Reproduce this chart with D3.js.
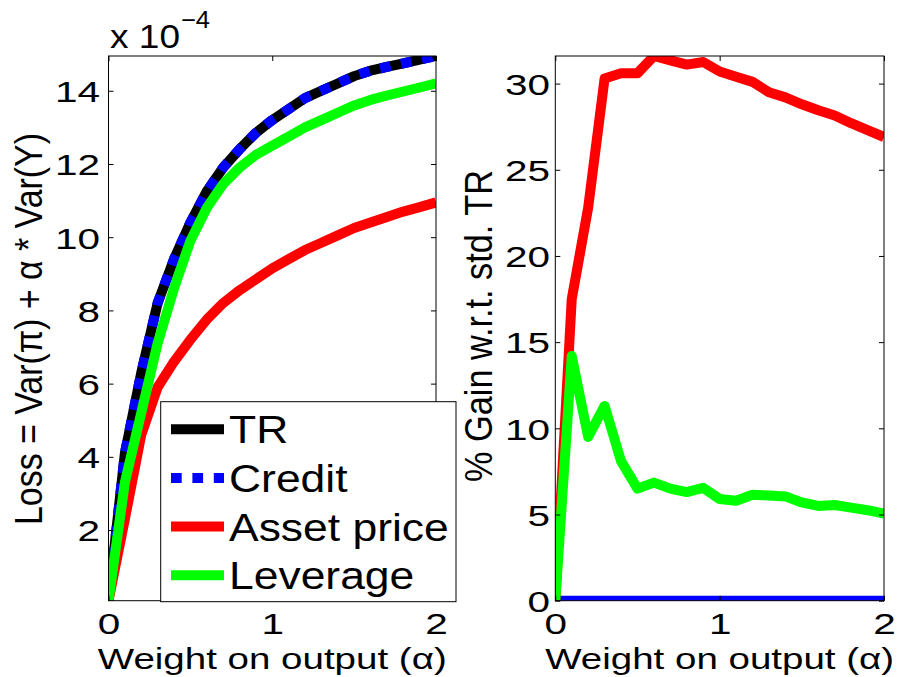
<!DOCTYPE html>
<html>
<head>
<meta charset="utf-8">
<script src="https://cdn.jsdelivr.net/npm/d3@7"></script>
<style>
  body { margin: 0; background: #fff; }
  text { font-family: "Liberation Sans", Arial, Helvetica, sans-serif; fill: #000; }
</style>
</head>
<body>
<svg id="fig" width="899" height="677"></svg>
<script>
// Weight on output (alpha) grid
const alpha = [0, 0.1, 0.2, 0.3, 0.4, 0.5, 0.6, 0.7, 0.8, 0.9, 1.0,
               1.1, 1.2, 1.3, 1.4, 1.5, 1.6, 1.7, 1.8, 1.9, 2.0];

// Loss = Var(pi) + alpha * Var(Y), in units of 1e-4
const lossTR       = [0.07, 4.1, 6.3, 8.2, 9.4, 10.4, 11.25, 11.9, 12.4, 12.85, 13.2,
                      13.5, 13.8, 14.0, 14.2, 14.4, 14.55, 14.65, 14.75, 14.85, 14.95];
const lossCredit   = [0.07, 4.1, 6.3, 8.2, 9.4, 10.4, 11.25, 11.9, 12.4, 12.85, 13.2,
                      13.5, 13.8, 14.0, 14.2, 14.4, 14.55, 14.65, 14.75, 14.85, 14.95];
const lossAsset    = [0.07, 2.3, 4.6, 5.9, 6.6, 7.2, 7.75, 8.2, 8.55, 8.85, 9.15,
                      9.4, 9.65, 9.85, 10.05, 10.25, 10.4, 10.55, 10.7, 10.82, 10.95];
const lossLeverage = [0.07, 3.3, 5.2, 7.1, 8.6, 9.9, 10.8, 11.45, 11.9, 12.25, 12.5,
                      12.75, 13.0, 13.2, 13.4, 13.6, 13.75, 13.87, 13.98, 14.09, 14.2];

// % gain with respect to standard Taylor rule
const gainCredit   = [0, 0, 0, 0, 0, 0, 0, 0, 0, 0, 0,
                      0, 0, 0, 0, 0, 0, 0, 0, 0, 0];
const gainAsset    = [0, 17.5, 22.8, 30.3, 30.6, 30.6, 31.6, 31.35, 31.1, 31.25, 30.7,
                      30.4, 30.1, 29.5, 29.2, 28.8, 28.45, 28.15, 27.7, 27.3, 26.9];
const gainLeverage = [0, 14.2, 9.5, 11.3, 8.1, 6.5, 6.85, 6.5, 6.3, 6.55, 5.9,
                      5.8, 6.15, 6.1, 6.05, 5.7, 5.5, 5.55, 5.4, 5.25, 5.05];

const xTicks = [0, 1, 2];
const lossTicks = [2, 4, 6, 8, 10, 12, 14];
const gainTicks = [0, 5, 10, 15, 20, 25, 30];
const legendNames = ["TR", "Credit", "Asset price", "Leverage"];

const BLACK = "#000000", BLUE = "#0000ff", RED = "#ff0000", GREEN = "#00ff00";
const LW = 10;
const DOT = "10.7,10.7";

const svg = d3.select("#fig");
svg.append("rect").attr("width", 899).attr("height", 677).attr("fill", "#fff");

const TICK_FS = 30, TICK_SX = 1.35;

function stretch(sel, sx) {
  sel.each(function () {
    const t = d3.select(this);
    const x = +t.attr("x") || 0;
    const y = +t.attr("y") || 0;
    t.attr("x", 0).attr("y", 0)
     .attr("transform", `translate(${x},${y}) scale(${sx},1)`);
  });
}

function panel(box, yScale, yTicks, series, id) {
  const x = d3.scaleLinear().domain([0, 2]).range([box.x0, box.x1]);
  const g = svg.append("g");

  g.append("clipPath").attr("id", id)
    .append("rect").attr("x", box.x0).attr("y", box.y0)
    .attr("width", box.x1 - box.x0).attr("height", box.y1 - box.y0);

  const plot = g.append("g").attr("clip-path", `url(#${id})`);
  series.forEach(s => {
    const line = d3.line().x((d, i) => x(alpha[i])).y(d => yScale(d));
    plot.append("path").datum(s.values)
      .attr("d", line)
      .attr("fill", "none")
      .attr("stroke", s.color)
      .attr("stroke-width", LW)
      .attr("stroke-linejoin", "round")
      .attr("stroke-linecap", "butt")
      .attr("stroke-dasharray", s.dash || null);
  });

  // axes with inward ticks on all four sides
  const bottom = g.append("g").attr("transform", `translate(0,${box.y1})`)
    .call(d3.axisBottom(x).tickValues(xTicks).tickFormat(d3.format("d"))
      .tickSizeInner(-5).tickSizeOuter(0).tickPadding(12));
  const top = g.append("g").attr("transform", `translate(0,${box.y0})`)
    .call(d3.axisTop(x).tickValues(xTicks).tickFormat("")
      .tickSizeInner(-5).tickSizeOuter(0));
  const left = g.append("g").attr("transform", `translate(${box.x0},0)`)
    .call(d3.axisLeft(yScale).tickValues(yTicks).tickFormat(d3.format("d"))
      .tickSizeInner(-5).tickSizeOuter(0).tickPadding(box.pad));
  const right = g.append("g").attr("transform", `translate(${box.x1},0)`)
    .call(d3.axisRight(yScale).tickValues(yTicks).tickFormat("")
      .tickSizeInner(-5).tickSizeOuter(0));

  [bottom, top, left, right].forEach(a => {
    a.select(".domain").remove();
    a.selectAll("line").attr("stroke", "#000").attr("stroke-width", 1);
    a.selectAll("text").attr("font-size", TICK_FS).attr("font-family", null).attr("fill", "#000");
  });
  left.selectAll("text").attr("dy", "0.36em");
  stretch(bottom.selectAll("text"), TICK_SX);
  stretch(left.selectAll("text"), TICK_SX);

  g.append("rect").attr("x", box.x0).attr("y", box.y0)
    .attr("width", box.x1 - box.x0).attr("height", box.y1 - box.y0)
    .attr("fill", "none").attr("stroke", "#000").attr("stroke-width", 1);

  g.append("text")
    .attr("x", (box.x0 + box.x1) / 2).attr("y", 669)
    .attr("text-anchor", "middle").attr("font-size", 30)
    .attr("textLength", 349).attr("lengthAdjust", "spacingAndGlyphs")
    .text("Weight on output (α)");

  return { x, g };
}

// Left panel: loss
const box1 = { x0: 108.5, x1: 436, y0: 56, y1: 600.7, pad: 8.5 };
const yLoss = d3.scaleLinear()
  .domain([d3.min(lossTR), d3.max(lossTR)])
  .range([box1.y1, box1.y0]);
panel(box1, yLoss, lossTicks, [
  { values: lossTR, color: BLACK },
  { values: lossCredit, color: BLUE, dash: DOT },
  { values: lossAsset, color: RED },
  { values: lossLeverage, color: GREEN }
], "clipLoss");

svg.append("text")
  .attr("transform", "translate(41.7,329) scale(1.3,1) rotate(-90)")
  .attr("text-anchor", "middle").attr("font-size", 30)
  .attr("textLength", 392).attr("lengthAdjust", "spacingAndGlyphs")
  .text("Loss = Var(π) + α * Var(Y)");

// exponent of the loss axis
svg.append("text").attr("x", 110).attr("y", 48).attr("font-size", 33)
  .attr("textLength", 70).attr("lengthAdjust", "spacingAndGlyphs").text("x 10");
svg.append("text").attr("x", 181).attr("y", 28).attr("font-size", 24)
  .attr("textLength", 29).attr("lengthAdjust", "spacingAndGlyphs").text("−4");

// Right panel: % gain
const box2 = { x0: 555.3, x1: 884, y0: 56, y1: 600.7, pad: 5.3 };
const yGain = d3.scaleLinear()
  .domain([0, d3.max(gainAsset)])
  .range([box2.y1, box2.y0]);
panel(box2, yGain, gainTicks, [
  { values: gainCredit, color: BLUE },
  { values: gainAsset, color: RED },
  { values: gainLeverage, color: GREEN }
], "clipGain");

svg.append("text")
  .attr("transform", "translate(491.7,326) scale(1.3,1) rotate(-90)")
  .attr("text-anchor", "middle").attr("font-size", 30)
  .attr("textLength", 312).attr("lengthAdjust", "spacingAndGlyphs")
  .text("% Gain w.r.t. std. TR");

// Legend
const leg = svg.append("g");
leg.append("rect").attr("x", 160.7).attr("y", 401.7)
  .attr("width", 295.3).attr("height", 200)
  .attr("fill", "#fff").attr("stroke", "#000").attr("stroke-width", 1);
const legStyles = [
  { color: BLACK }, { color: BLUE, dash: DOT }, { color: RED }, { color: GREEN }
];
const legY = d3.scalePoint().domain(legendNames).range([429.2, 575.3]);
legendNames.forEach((name, i) => {
  const cy = legY(name);
  leg.append("line").attr("x1", 171).attr("x2", 224).attr("y1", cy).attr("y2", cy)
    .attr("stroke", legStyles[i].color).attr("stroke-width", LW)
    .attr("stroke-dasharray", legStyles[i].dash || null);
  leg.append("text").attr("font-size", 39)
    .attr("transform", `translate(229,${cy + 14}) scale(1.14,1)`)
    .text(name);
});
</script>
</body>
</html>
